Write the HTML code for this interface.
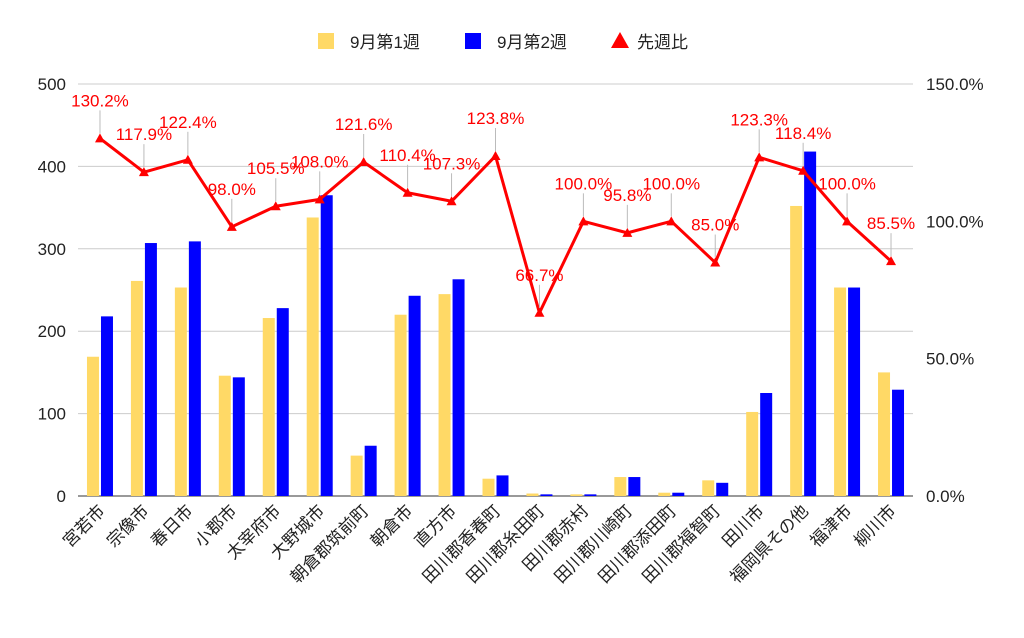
<!DOCTYPE html>
<html><head><meta charset="utf-8"><style>
body{margin:0;background:#fff;width:1024px;height:633px;overflow:hidden}
text{font-family:"Liberation Sans","Noto Sans CJK JP",sans-serif}
</style></head><body>
<svg id="c" width="1024" height="633" xmlns="http://www.w3.org/2000/svg"></svg>
<script>
const categories=["宮若市","宗像市","春日市","小郡市","太宰府市","大野城市","朝倉郡筑前町","朝倉市","直方市","田川郡香春町","田川郡糸田町","田川郡赤村","田川郡川崎町","田川郡添田町","田川郡福智町","田川市","福岡県その他","福津市","柳川市"];
const week1=[169,261,253,146,216,338,49,220,245,21,3,2,23,4,19,102,352,253,150];
const week2=[218,307,309,144,228,365,61,243,263,25,2,2,23,4,16,125,418,253,129];
const ratio=[130.2,117.9,122.4,98.0,105.5,108.0,121.6,110.4,107.3,123.8,66.7,100.0,95.8,100.0,85.0,123.3,118.4,100.0,85.5];
const leftTicks=[0,100,200,300,400,500];
const rightTicks=["0.0%","50.0%","100.0%","150.0%"];
const NS="http://www.w3.org/2000/svg",svg=document.getElementById('c');
const X0=78,X1=913,Y0=496,Y1=84;
const bw=(X1-X0)/categories.length;
const yL=v=>Y0-(v/500)*(Y0-Y1);
const yR=v=>Y0-(v/150)*(Y0-Y1);
const xc=i=>X0+bw*(i+0.5);
function mk(t,a,p){const e=document.createElementNS(NS,t);for(const k in a)e.setAttribute(k,a[k]);(p||svg).appendChild(e);return e;}
leftTicks.forEach(v=>{
 const g=mk('line',{x1:X0,x2:X1,y1:yL(v),y2:yL(v),stroke:v===0?'#333':'#ccc','stroke-width':1});
 
 
 const t=mk('text',{x:66,y:yL(v)+6,'text-anchor':'end','font-size':17,fill:'#222'});t.textContent=v;
 
 
});
rightTicks.forEach((s,i)=>{
 const t=mk('text',{x:926,y:yR(i*50)+6,'font-size':17,fill:'#222'});t.textContent=s;
 
 
});
categories.forEach((c,i)=>{
 const x=xc(i);
 const b1=mk('rect',{x:x-13,y:yL(week1[i]),width:12,height:Y0-yL(week1[i]),fill:'#ffd966'});
 
 
 const b2=mk('rect',{x:x+1,y:yL(week2[i]),width:12,height:Y0-yL(week2[i]),fill:'#0000ff'});
 
 
 const t=mk('text',{x:x+6,y:512,'text-anchor':'end','font-size':17,fill:'#222',transform:`rotate(-45 ${x+6} 512)`});t.textContent=c;
 
 
});
let pts=ratio.map((v,i)=>xc(i)+','+yR(v)).join(' ');
const pl=mk('polyline',{points:pts,fill:'none',stroke:'#ff0000','stroke-width':3,'stroke-linejoin':'round'});


ratio.forEach((v,i)=>{
 const x=xc(i),y=yR(v);
 const l=mk('line',{x1:x,x2:x,y1:y-5,y2:y-28,stroke:'#bbb','stroke-width':1});
 
 
 const m=mk('polygon',{points:`${x},${y-5} ${x-5},${y+4} ${x+5},${y+4}`,fill:'#ff0000'});
 
 
 const t=mk('text',{x:x,y:y-32,'text-anchor':'middle','font-size':17,fill:'#ff0000'});t.textContent=v.toFixed(1)+'%';
 
 
});
// legend
const lg=mk('g',{});


const r1=mk('rect',{x:318,y:33,width:16,height:16,fill:'#ffd966'},lg);


const t1=mk('text',{x:350,y:48,'font-size':17,fill:'#222'},lg);t1.textContent='9月第1週';


const r2=mk('rect',{x:465,y:33,width:16,height:16,fill:'#0000ff'},lg);


const t2=mk('text',{x:497,y:48,'font-size':17,fill:'#222'},lg);t2.textContent='9月第2週';


const r3=mk('polygon',{points:'620,32 611,48 629,48',fill:'#ff0000'},lg);


const t3=mk('text',{x:637,y:48,'font-size':17,fill:'#222'},lg);t3.textContent='先週比';


</script>
</body></html>
